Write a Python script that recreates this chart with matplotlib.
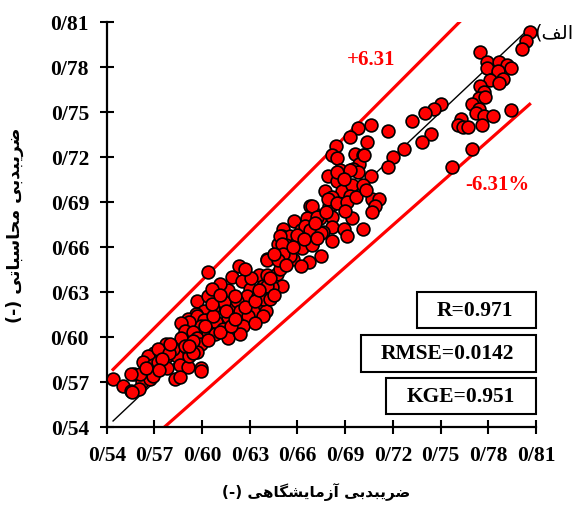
import matplotlib
matplotlib.use("Agg")
import matplotlib.pyplot as plt
from matplotlib.patches import Rectangle
import numpy as np


# measured (lab) discharge coefficient vs computed, read off the chart
# upper group
cd_lab_hi = [0.806, 0.804, 0.801, 0.775, 0.779, 0.787, 0.792, 0.794, 0.779, 0.786,
             0.789, 0.781, 0.787, 0.775, 0.777, 0.774, 0.778, 0.770, 0.774, 0.772,
             0.777, 0.783, 0.794, 0.763, 0.761, 0.764, 0.767, 0.776, 0.750, 0.746,
             0.740, 0.732, 0.744, 0.738, 0.727, 0.770, 0.757]
cd_calc_hi = [0.803, 0.797, 0.792, 0.790, 0.783, 0.783, 0.781, 0.779, 0.779, 0.777,
              0.772, 0.771, 0.769, 0.767, 0.763, 0.759, 0.760, 0.755, 0.752, 0.749,
              0.747, 0.747, 0.751, 0.745, 0.741, 0.740, 0.740, 0.741, 0.755, 0.752,
              0.749, 0.744, 0.735, 0.730, 0.725, 0.725, 0.713]

# middle group
cd_lab_mid = [0.720, 0.717, 0.717, 0.706, 0.698, 0.693, 0.704, 0.684, 0.682, 0.685,
              0.696, 0.701, 0.699, 0.695, 0.698, 0.706, 0.679, 0.685, 0.688, 0.694,
              0.693, 0.701, 0.707, 0.711, 0.709, 0.707, 0.668, 0.670, 0.674, 0.680,
              0.682, 0.682, 0.689, 0.694, 0.701, 0.676, 0.691, 0.666, 0.669, 0.687,
              0.677, 0.682, 0.685, 0.693, 0.679, 0.685, 0.691, 0.669, 0.666, 0.672,
              0.658, 0.662, 0.665, 0.668, 0.675, 0.682, 0.651, 0.650, 0.655, 0.653,
              0.660, 0.648, 0.663, 0.669, 0.675, 0.667, 0.657, 0.655, 0.641, 0.650,
              0.662, 0.702, 0.689, 0.660, 0.664, 0.671, 0.678, 0.672, 0.690, 0.697,
              0.703]
cd_calc_mid = [0.720, 0.713, 0.737, 0.741, 0.739, 0.733, 0.730, 0.727, 0.721, 0.719,
               0.722, 0.721, 0.715, 0.712, 0.710, 0.707, 0.707, 0.704, 0.697, 0.701,
               0.694, 0.701, 0.692, 0.692, 0.687, 0.683, 0.687, 0.683, 0.679, 0.687,
               0.680, 0.673, 0.672, 0.679, 0.672, 0.670, 0.667, 0.670, 0.662, 0.711,
               0.697, 0.693, 0.710, 0.711, 0.692, 0.689, 0.690, 0.687, 0.679, 0.680,
               0.677, 0.671, 0.674, 0.671, 0.669, 0.664, 0.672, 0.667, 0.667, 0.661,
               0.663, 0.662, 0.659, 0.661, 0.654, 0.650, 0.652, 0.654, 0.652, 0.647,
               0.647, 0.721, 0.705, 0.668, 0.665, 0.676, 0.683, 0.666, 0.684, 0.693,
               0.698]

# lower group
cd_lab_lo = [0.604, 0.623, 0.619, 0.625, 0.641, 0.636, 0.641, 0.647, 0.649, 0.650,
             0.644, 0.638, 0.649, 0.650, 0.651, 0.648, 0.630, 0.628, 0.635, 0.638,
             0.640, 0.632, 0.616, 0.613, 0.618, 0.622, 0.624, 0.629, 0.616, 0.597,
             0.604, 0.607, 0.601, 0.596, 0.603, 0.609, 0.597, 0.613, 0.619, 0.626,
             0.591, 0.591, 0.599, 0.597, 0.601, 0.599, 0.592, 0.587, 0.589, 0.594,
             0.597, 0.599, 0.604, 0.577, 0.570, 0.578, 0.584, 0.587, 0.582, 0.566,
             0.563, 0.569, 0.578, 0.586, 0.591, 0.592, 0.597, 0.599, 0.557, 0.563,
             0.562, 0.567, 0.569, 0.583, 0.586, 0.599, 0.544, 0.550, 0.555, 0.560,
             0.561, 0.572, 0.587, 0.572, 0.579, 0.594, 0.614, 0.621, 0.638, 0.641,
             0.643, 0.608, 0.616, 0.624, 0.633, 0.638, 0.643, 0.631, 0.627, 0.611,
             0.606, 0.555, 0.556, 0.611, 0.618, 0.607, 0.575, 0.580, 0.589, 0.594,
             0.602, 0.606, 0.611, 0.615, 0.621, 0.627, 0.633, 0.636, 0.645, 0.653,
             0.657, 0.645, 0.573, 0.565, 0.592, 0.604]
cd_calc_lo = [0.643, 0.647, 0.640, 0.637, 0.651, 0.641, 0.641, 0.642, 0.645, 0.634,
              0.633, 0.634, 0.667, 0.662, 0.655, 0.651, 0.632, 0.627, 0.627, 0.621,
              0.617, 0.617, 0.631, 0.624, 0.621, 0.624, 0.617, 0.614, 0.613, 0.624,
              0.627, 0.619, 0.617, 0.615, 0.611, 0.610, 0.607, 0.605, 0.605, 0.607,
              0.612, 0.603, 0.601, 0.614, 0.611, 0.607, 0.610, 0.609, 0.604, 0.603,
              0.599, 0.595, 0.603, 0.595, 0.589, 0.587, 0.587, 0.597, 0.592, 0.587,
              0.583, 0.581, 0.579, 0.581, 0.580, 0.587, 0.590, 0.579, 0.575, 0.575,
              0.570, 0.572, 0.574, 0.572, 0.573, 0.577, 0.572, 0.567, 0.564, 0.565,
              0.575, 0.583, 0.599, 0.592, 0.589, 0.589, 0.623, 0.627, 0.614, 0.634,
              0.639, 0.602, 0.599, 0.602, 0.609, 0.625, 0.625, 0.639, 0.645, 0.635,
              0.632, 0.575, 0.563, 0.603, 0.607, 0.614, 0.585, 0.595, 0.594, 0.597,
              0.607, 0.622, 0.628, 0.617, 0.612, 0.620, 0.624, 0.631, 0.628, 0.648,
              0.660, 0.655, 0.578, 0.579, 0.594, 0.598]

err_pct = 6.31
line_x = [0.544, 0.806]
ticks = [0.54, 0.57, 0.60, 0.63, 0.66, 0.69, 0.72, 0.75, 0.78, 0.81]
tick_labels = ["0/54", "0/57", "0/60", "0/63", "0/66", "0/69", "0/72", "0/75", "0/78", "0/81"]
stats = ["R=0.971", "RMSE=0.0142", "KGE=0.951"]


# very small persian shaper (no bidi lib in the sandbox)
FORMS = {
    'ا': ('\uFE8D', '\uFE8E'), 'آ': ('\uFE81', '\uFE82'),
    'د': ('\uFEA9', '\uFEAA'), 'ر': ('\uFEAD', '\uFEAE'), 'ز': ('\uFEAF', '\uFEB0'),
    'ب': ('\uFE8F', '\uFE90', '\uFE91', '\uFE92'),
    'ت': ('\uFE95', '\uFE96', '\uFE97', '\uFE98'),
    'ح': ('\uFEA1', '\uFEA2', '\uFEA3', '\uFEA4'),
    'س': ('\uFEB1', '\uFEB2', '\uFEB3', '\uFEB4'),
    'ش': ('\uFEB5', '\uFEB6', '\uFEB7', '\uFEB8'),
    'ض': ('\uFEBD', '\uFEBE', '\uFEBF', '\uFEC0'),
    'ف': ('\uFED1', '\uFED2', '\uFED3', '\uFED4'),
    'ل': ('\uFEDD', '\uFEDE', '\uFEDF', '\uFEE0'),
    'م': ('\uFEE1', '\uFEE2', '\uFEE3', '\uFEE4'),
    'ه': ('\uFEE9', '\uFEEA', '\uFEEB', '\uFEEC'),
    'گ': ('\uFB92', '\uFB93', '\uFB94', '\uFB95'),
    'ی': ('\uFBFC', '\uFBFD', '\uFBFE', '\uFBFF'),
}


def shape(text):
    out = []
    for i, ch in enumerate(text):
        f = FORMS.get(ch)
        if f is None:
            out.append(ch)
            continue
        prev = text[i - 1] if i > 0 else ''
        nxt = text[i + 1] if i + 1 < len(text) else ''
        jp = prev in FORMS and len(FORMS[prev]) == 4
        jn = len(f) == 4 and nxt in FORMS
        if jp and jn:
            out.append(f[3])
        elif jp:
            out.append(f[1])
        elif jn:
            out.append(f[2])
        else:
            out.append(f[0])
    return ''.join(out)[::-1]


x_all = np.array(cd_lab_hi + cd_lab_mid + cd_lab_lo)
y_all = np.array(cd_calc_hi + cd_calc_mid + cd_calc_lo)
lx = np.array(line_x)

fig = plt.figure(figsize=(5.85, 5.06), dpi=100)
ax = fig.add_axes([0.1824, 0.1542, 0.7338, 0.8004])

ax.plot(lx, lx, color='k', lw=1.0, zorder=1)
ax.plot(lx, lx * (1 + err_pct / 100), color='red', lw=2.3, zorder=1)
ax.plot(lx, lx * (1 - err_pct / 100), color='red', lw=2.3, zorder=1)
ax.scatter(x_all, y_all, s=85, facecolor='red', edgecolor='k', linewidth=1.2,
           zorder=3, clip_on=False)

ax.set_xlim(0.54, 0.81)
ax.set_ylim(0.54, 0.81)
ax.set_xticks(ticks)
ax.set_yticks(ticks)
ax.set_xticklabels(tick_labels)
ax.set_yticklabels(tick_labels)
for lab in ax.get_xticklabels() + ax.get_yticklabels():
    lab.set_family('Liberation Serif')
    lab.set_weight('bold')
    lab.set_fontsize(15.5)
ax.tick_params(direction='inout', length=9.4, width=1.5, pad=8)
ax.spines['top'].set_visible(False)
ax.spines['right'].set_visible(False)
ax.spines['left'].set_linewidth(1.6)
ax.spines['bottom'].set_linewidth(1.6)

serif_b = dict(family='Liberation Serif', weight='bold')
ax.text(0.706, 0.785, '+%.2f' % err_pct, color='red', fontsize=15, ha='center', va='center', **serif_b)
ax.text(0.7855, 0.702, '-%.2f%%' % err_pct, color='red', fontsize=15, ha='center', va='center', **serif_b)
ax.text(0.8215, 0.803, '(' + shape('الف'), fontsize=14, ha='center', va='center',
        family='DejaVu Sans', clip_on=False)

# stat boxes
boxes = [(0.7228, 0.2444, 0.3333, 0.858, 0.289),
         (0.5924, 0.1358, 0.2272, 0.794, 0.1815),
         (0.6506, 0.0321, 0.1210, 0.824, 0.0765)]
for (x0, y0, y1, tx, ty), s in zip(boxes, stats):
    ax.add_patch(Rectangle((x0, y0), 1.0 - x0, y1 - y0, transform=ax.transAxes,
                           fill=False, edgecolor='k', lw=1.5, clip_on=False, zorder=4))
    ax.text(tx, ty, s, transform=ax.transAxes, fontsize=15.5, ha='center', va='center', **serif_b)

fig.text(0.540, 0.0277, '(-) ' + shape('ضریبدبی آزمایشگاهی'), fontsize=11, weight='bold',
         family='DejaVu Sans', ha='center', va='center')
fig.text(0.0256, 0.555, '(-) ' + shape('ضریبدبی محاسباتی'), fontsize=12.5, weight='bold',
         family='DejaVu Sans', ha='center', va='center', rotation=90)

fig.savefig('out.png', dpi=100)
